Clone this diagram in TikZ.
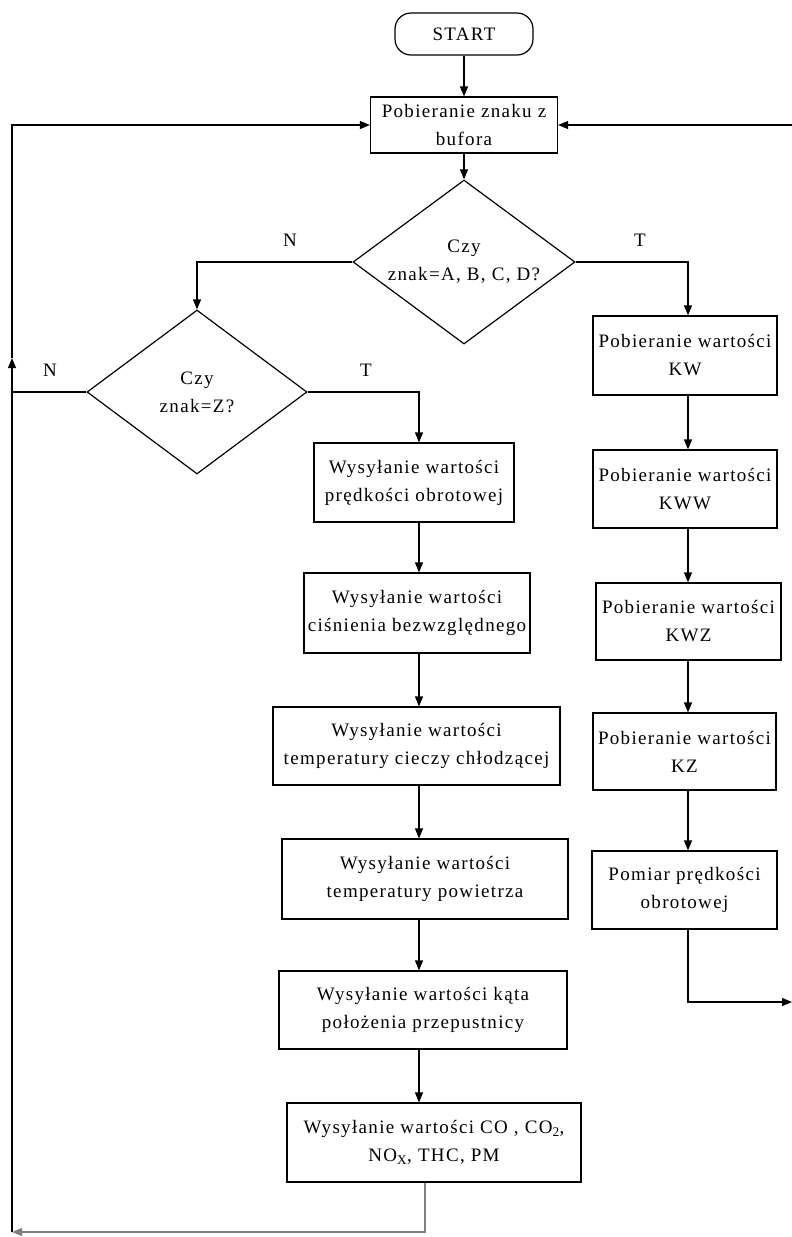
\documentclass[tikz,border=0pt]{standalone}
\usepackage{fontspec}
\setmainfont{Liberation Serif}[LetterSpace=7]
\usepackage{tikz}
\usetikzlibrary{shapes,arrows,positioning,calc,arrows.meta}

\begin{document}
\begin{tikzpicture}[x=1pt,y=-1pt,
    font=\fontsize{19}{28}\selectfont,
    every node/.style={align=center},
    box/.style={draw,line width=1.2pt,inner sep=2pt,minimum height=79pt},
    decision/.style={draw,diamond,aspect=1.35,line width=1.2pt,inner sep=0pt,minimum width=222pt,minimum height=164pt},
    terminal/.style={draw,rounded corners=16pt,line width=1.2pt,minimum width=138pt,minimum height=42pt},
    flow/.style={line width=1.2pt,-{Triangle[length=10pt,width=8pt]}},
    link/.style={line width=1.2pt},
    back/.style={line width=1.2pt,draw=gray}]
    \useasboundingbox (0,0) rectangle (792,1237);

    % Start and buffer
    \node[terminal] (start) at (464,34) {START};
    \node[box,minimum width=187pt,minimum height=56pt] (buf) at (464,125) {Pobieranie znaku z\\bufora};
    \draw[flow] (start) -- (buf);

    % Decision A..D
    \node[decision] (dA) at (464,262) {Czy\\znak=A, B, C, D?};
    \draw[flow] (buf) -- (dA);
    \node (labNA) at (290,240) {N};
    \node (labTA) at (640,240) {T};

    % Decision Z
    \node[decision,minimum width=220pt] (dZ) at (197,392) {Czy\\znak=Z?};
    \draw[flow] (dA.west) -| (dZ.north);
    \node (labNZ) at (50,370) {N};
    \node (labTZ) at (366,370) {T};

    % Right column
    \coordinate (colR) at (688,0);
    \node[box,minimum width=184pt] (kw) at (685,355.5) {Pobieranie wartości\\KW};
    \node[box,minimum width=184pt,minimum height=78pt] (kww) at (685,489) {Pobieranie wartości\\KWW};
    \node[box,minimum width=185pt,minimum height=77pt] (kwz) at (688.5,621.5) {Pobieranie wartości\\KWZ};
    \node[box,minimum width=183pt,minimum height=77pt] (kz) at (684.5,751.5) {Pobieranie wartości\\KZ};
    \node[box,minimum width=185pt,minimum height=78pt] (pm) at (684.5,890) {Pomiar prędkości\\obrotowej};
    \draw[flow] (dA.east) -| (kw.north -| colR);
    \draw[flow] (kw.south -| colR) -- (kww.north -| colR);
    \draw[flow] (kww.south -| colR) -- (kwz.north -| colR);
    \draw[flow] (kwz.south -| colR) -- (kz.north -| colR);
    \draw[flow] (kz.south -| colR) -- (pm.north -| colR);

    % Left column
    \coordinate (colL) at (419,0);
    \node[box,minimum width=200pt] (l1) at (414,482.5) {Wysyłanie wartości\\prędkości obrotowej};
    \node[box,minimum width=226pt,minimum height=80pt] (l2) at (417,613) {Wysyłanie wartości\\ciśnienia bezwzględnego};
    \node[box,minimum width=287pt,minimum height=78pt] (l3) at (416.5,746) {Wysyłanie wartości\\temperatury cieczy chłodzącej};
    \node[box,minimum width=286pt,minimum height=80pt] (l4) at (425,879) {Wysyłanie wartości\\temperatury powietrza};
    \node[box,minimum width=288pt,minimum height=78pt] (l5) at (423,1010) {Wysyłanie wartości kąta\\położenia przepustnicy};
    \node[box,minimum width=294pt] (l6) at (434,1142.5) {Wysyłanie wartości CO , CO\textsubscript{2},\\NO\textsubscript{X}, THC, PM};
    \draw[flow] (dZ.east) -| (l1.north -| colL);
    \draw[flow] (l1.south -| colL) -- (l2.north -| colL);
    \draw[flow] (l2.south -| colL) -- (l3.north -| colL);
    \draw[flow] (l3.south -| colL) -- (l4.north -| colL);
    \draw[flow] (l4.south -| colL) -- (l5.north -| colL);
    \draw[flow] (l5.south -| colL) -- (l6.north -| colL);

    % Loop back on the left
    \coordinate (loopB) at (425,1232);
    \coordinate (loopL) at (12,1232);
    \coordinate (loopM) at (12,358);
    \coordinate (loopT) at (12,125);
    \draw[back,-{Triangle[length=10pt,width=8pt]}] (l6.south -| loopB) -- (loopB) -- (loopL);
    \draw[flow] (loopL) -- (loopM);
    \draw[flow] (loopM) -- (loopT) -- (buf.west);
    \draw[link] (dZ.west) -- (dZ.west -| loopL);

    % Loop back on the right
    \coordinate (retR) at (792,1002);
    \coordinate (retT) at (792,125);
    \draw[flow] (pm.south -| colR) -- (colR |- retR) -- (retR);
    \draw[flow] (retT) -- (buf.east);
\end{tikzpicture}
\end{document}
